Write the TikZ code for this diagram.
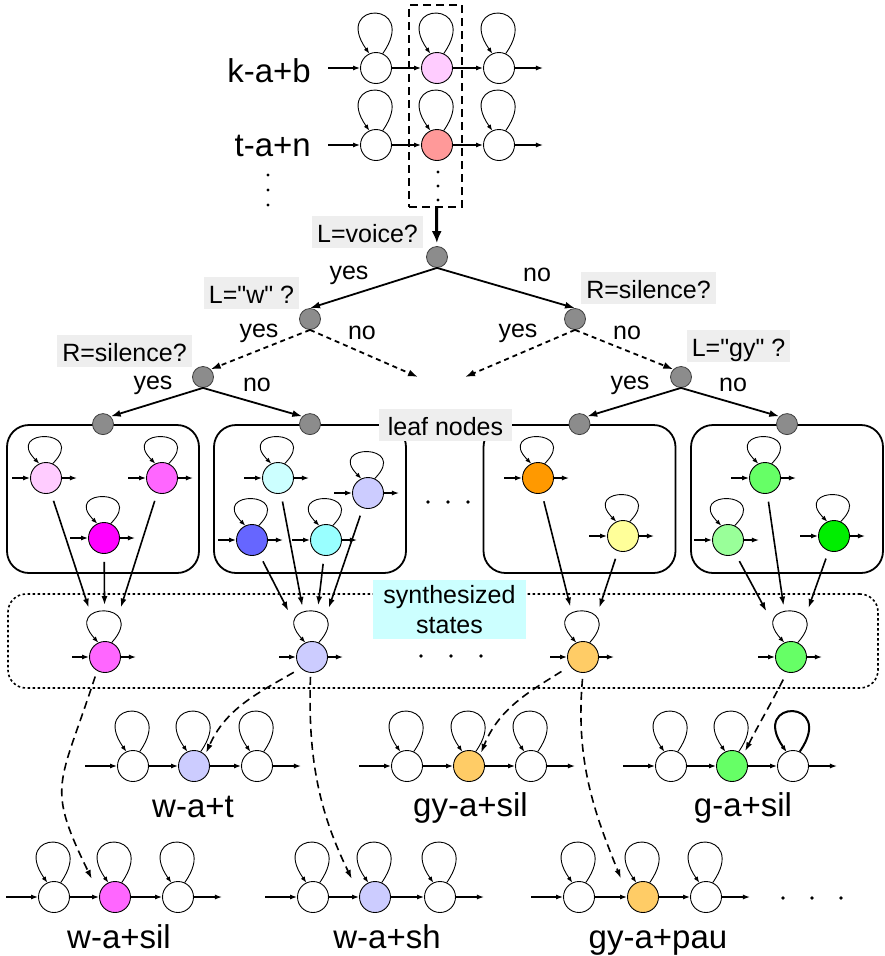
\documentclass[tikz,border=0pt]{standalone}
\usepackage{fontspec}
\setmainfont{Liberation Sans}[Ligatures=TeXOff]
\usepackage{tikz}
\usetikzlibrary{arrows.meta}
\definecolor{pkA}{HTML}{FFCCFF}
\definecolor{pkB}{HTML}{FF66FF}
\definecolor{pkC}{HTML}{FF00FF}
\definecolor{cyA}{HTML}{CCFFFF}
\definecolor{cyB}{HTML}{99FFFF}
\definecolor{lvA}{HTML}{CCCCFF}
\definecolor{blA}{HTML}{6666FF}
\definecolor{orA}{HTML}{FF9900}
\definecolor{orB}{HTML}{FFCC66}
\definecolor{ylA}{HTML}{FFFF99}
\definecolor{grA}{HTML}{66FF66}
\definecolor{grB}{HTML}{99FF99}
\definecolor{grC}{HTML}{00EE00}
\definecolor{rdA}{HTML}{FF9999}
\definecolor{qgray}{HTML}{8C8C8C}
\definecolor{labbg}{HTML}{EEEEEE}

\begin{document}
\begin{tikzpicture}[x=1pt,y=-1pt,
  hst/.style={circle,draw,line width=0.9pt,fill=white,minimum size=31pt,inner sep=0pt},
  tnode/.style={circle,draw=black!75,fill=qgray,line width=0.8pt,minimum size=21pt,inner sep=0pt},
  qlab/.style={fill=labbg,font=\fontsize{25}{30}\selectfont,text height=24pt,text depth=3pt,inner xsep=5pt,inner ysep=2.5pt},
  ylab/.style={font=\fontsize{25}{30}\selectfont,inner sep=0pt},
  mname/.style={font=\fontsize{33}{36}\selectfont,inner sep=0pt,anchor=base},
  trans/.style={-{Latex[length=7pt,width=5pt]},line width=1.2pt},
  selfl/.style={-{Latex[length=6pt,width=4.5pt]},line width=0.9pt},
  tedge/.style={-{Latex[length=10pt,width=7pt]},line width=1.8pt},
  tdash/.style={tedge,dash pattern=on 5pt off 4pt},
  leafbox/.style={draw,line width=1.8pt,rounded corners=22pt,minimum width=192pt,minimum height=148pt},
  conn/.style={-{Latex[length=9pt,width=6pt]},line width=1.6pt,shorten <=8pt,shorten >=36pt},
  dconn/.style={-{Latex[length=9pt,width=6pt]},line width=1.6pt,dash pattern=on 8pt off 5pt}]
\useasboundingbox (0,0) rectangle (885,956);

% context-dependent HMMs
\node[draw,line width=1.5pt,dash pattern=on 8pt off 5pt,minimum width=53pt,minimum height=202pt] (sel) at (435.5,106) {};
\node[hst] (k1) at (376,68) {}; \node[hst,fill=pkA] (k2) at (437,68) {}; \node[hst] (k3) at (499,68) {};
\node[hst] (t1) at (376,145) {}; \node[hst,fill=rdA] (t2) at (437,145) {}; \node[hst] (t3) at (499,145) {};
\node[mname,anchor=base east] (kab) at (311,82) {k-a+b};
\node[mname,anchor=base east] (tan) at (311,156) {t-a+n};
\foreach \y in {175,190,205} \fill (268,\y) circle (1.6pt);
\foreach \y in {172,186,200} \fill (438,\y) circle (1.6pt);

% decision tree
\node[tnode] (root) at (437,257) {};
\node[tnode] (wq) at (310,319) {};
\node[tnode] (rsl) at (203,377) {};
\node[tnode] (rsr) at (575,319) {};
\node[tnode] (gq) at (681,377) {};
\coordinate (wno) at (418,377);
\coordinate (ryes) at (465,377);
\node[qlab] (voice) at (367.5,232) {L=voice?};
\node[qlab] (wlab) at (251.5,292.5) {L="w" ?};
\node[qlab] (rslab) at (124.5,351) {R=silence?};
\node[qlab] (rsrlab) at (648.5,288) {R=silence?};
\node[qlab] (gylab) at (738.5,346) {L="gy" ?};
\node[ylab] (y1) at (349,275) {yes}; \node[ylab] (n1) at (537,275) {no};
\node[ylab] (y2) at (259,333) {yes}; \node[ylab] (n2) at (362,333) {no};
\node[ylab] (y3) at (153,385) {yes}; \node[ylab] (n3) at (257,385) {no};
\node[ylab] (y4) at (518,333) {yes}; \node[ylab] (n4) at (627,333) {no};
\node[ylab] (y5) at (630,385) {yes}; \node[ylab] (n5) at (733,385) {no};

% leaf nodes
\node[leafbox] (bx1) at (103,499) {};
\node[leafbox] (bx2) at (310,499) {};
\node[leafbox] (bx3) at (579.5,499) {};
\node[leafbox] (bx4) at (787,499) {};
\node[qlab,inner xsep=9pt] (leaflab) at (445.5,424.5) {leaf nodes};
\node[tnode] (lf1) at (bx1.north) {};
\node[tnode] (lf2) at (bx2.north) {};
\node[tnode] (lf3) at (bx3.north) {};
\node[tnode] (lf4) at (bx4.north) {};
\draw[line width=3pt,-{Latex[length=12pt,width=10pt]},shorten >=3pt] (sel) -- (root);
\draw[tedge] (root.south) -- (wq.north); \draw[tedge] (root.south) -- (rsr.north);
\draw[tdash] (wq.south) -- (rsl.north east); \draw[tdash] (wq.south) -- (wno);
\draw[tdash] (rsr.south) -- (ryes); \draw[tdash] (rsr.south) -- (gq.north west);
\draw[tedge] (rsl.south) -- (lf1.north east); \draw[tedge] (rsl.south) -- (lf2.north west);
\draw[tedge] (gq.south) -- (lf3.north east); \draw[tedge] (gq.south) -- (lf4.north west);

\node[hst,fill=pkA] (p1) at (46,478) {};
\node[hst,fill=pkB] (p2) at (162,478) {};
\node[hst,fill=pkC] (p3) at (104,538) {};
\node[hst,fill=cyA] (q1) at (278,478) {};
\node[hst,fill=lvA] (q2) at (368,493) {};
\node[hst,fill=blA] (q3) at (252,540) {};
\node[hst,fill=cyB] (q4) at (326,540) {};
\node[hst,fill=orA] (o1) at (538,478) {};
\node[hst,fill=ylA] (o2) at (623,536) {};
\node[hst,fill=grA] (g1) at (765,478) {};
\node[hst,fill=grB] (g2) at (728,540) {};
\node[hst,fill=grC] (g3) at (834,536) {};
\foreach \n in {p1,p2,p3,q1,q2,q3,q4,o1,o2,g1,g2,g3}{
  \draw[selfl] (\n.65) .. controls +(45:50pt) and +(135:50pt) .. (\n.115);
  \draw[trans] ([xshift=-18pt]\n.west) -- (\n); \draw[trans] (\n) -- ([xshift=15pt]\n.east);
}
\foreach \x in {428,448,468} \fill (\x,502) circle (1.8pt);

% synthesized states
\node[draw,line width=1.6pt,dash pattern=on 2.5pt off 2.5pt,rounded corners=18pt,minimum width=870pt,minimum height=94pt] (synbox) at (443,641) {};
\node[fill=cyA,font=\fontsize{25}{30}\selectfont,align=center,minimum width=153pt,minimum height=59pt,inner sep=0pt] (synlab) at (449.5,609.5) {synthesized\\states};
\node[hst,fill=pkB] (s1) at (105,657) {};
\node[hst,fill=lvA] (s2) at (312,657) {};
\node[hst,fill=orB] (s3) at (583,657) {};
\node[hst,fill=grA] (s4) at (791,657) {};
\foreach \n in {s1,s2,s3,s4}{
  \draw[selfl] (\n.65) .. controls +(48:56pt) and +(132:56pt) .. (\n.115);
  \draw[trans] ([xshift=-17pt]\n.west) -- (\n); \draw[trans] (\n) -- ([xshift=15pt]\n.east);
}
\foreach \a/\b in {p1/s1,p2/s1,p3/s1,q1/s2,q2/s2,q3/s2,q4/s2,o1/s3,o2/s3,g1/s4,g2/s4,g3/s4}
  \draw[conn] (\a) -- (\b);
\foreach \x in {421,451,481} \fill (\x,656) circle (1.8pt);

% new context-dependent HMMs
\node[hst] (wt1) at (133,766) {}; \node[hst,fill=lvA] (wt2) at (194,766) {}; \node[hst] (wt3) at (257,766) {};
\node[hst] (gs1) at (407,766) {}; \node[hst,fill=orB] (gs2) at (469,766) {}; \node[hst] (gs3) at (531,766) {};
\node[hst] (gg1) at (671,766) {}; \node[hst,fill=grA] (gg2) at (732,766) {}; \node[hst] (gg3) at (793,766) {};
\node[hst] (ws1) at (54,897) {}; \node[hst,fill=pkB] (ws2) at (115,897) {}; \node[hst] (ws3) at (178,897) {};
\node[hst] (wh1) at (313,897) {}; \node[hst,fill=lvA] (wh2) at (375,897) {}; \node[hst] (wh3) at (440,897) {};
\node[hst] (gp1) at (579,897) {}; \node[hst,fill=orB] (gp2) at (643,897) {}; \node[hst] (gp3) at (706,897) {};
\foreach \a/\b/\c in {k1/k2/k3,t1/t2/t3,wt1/wt2/wt3,gs1/gs2/gs3,gg1/gg2/gg3,ws1/ws2/ws3,wh1/wh2/wh3,gp1/gp2/gp3}{
  \draw[trans] ([xshift=-32pt]\a.west) -- (\a); \draw[trans] (\a) -- (\b);
  \draw[trans] (\b) -- (\c); \draw[trans] (\c) -- ([xshift=28pt]\c.east);
  \foreach \n in {\a,\b,\c} \draw[selfl] (\n.65) .. controls +(55:65pt) and +(125:65pt) .. (\n.115);
}
\draw[selfl,line width=2pt] (gg3.65) .. controls +(55:65pt) and +(125:65pt) .. (gg3.115);
\node[mname] (nwt) at (193,817) {w-a+t};
\node[mname] (ngs) at (470.5,816) {gy-a+sil};
\node[mname] (ngg) at (743,816) {g-a+sil};
\node[mname] (nws) at (119,948) {w-a+sil};
\node[mname] (nwh) at (387,948) {w-a+sh};
\node[mname] (ngp) at (658,948) {gy-a+pau};
\foreach \x in {783,812,841} \fill (\x,898) circle (1.8pt);

\draw[dconn,shorten <=6pt,shorten >=17pt] (s1.240) to[out=-108,in=116,looseness=1.4] (ws2.170);
\draw[dconn,shorten <=8pt,shorten >=2pt] (s2.225) to[out=210,in=66] (wt2.north east);
\draw[dconn,shorten <=4pt,shorten >=17pt] (s2.265) to[out=-92,in=116] (wh2.170);
\draw[dconn,shorten <=10pt,shorten >=2pt] (s3.215) to[out=212,in=68] (gs2.north east);
\draw[dconn,shorten <=6pt,shorten >=17pt] (s3.south) to[out=-95,in=112] (gp2.170);
\draw[dconn,shorten <=8pt,shorten >=4pt] (s4.255) to[out=243,in=63] (gg2.north east);
\end{tikzpicture}
\end{document}
